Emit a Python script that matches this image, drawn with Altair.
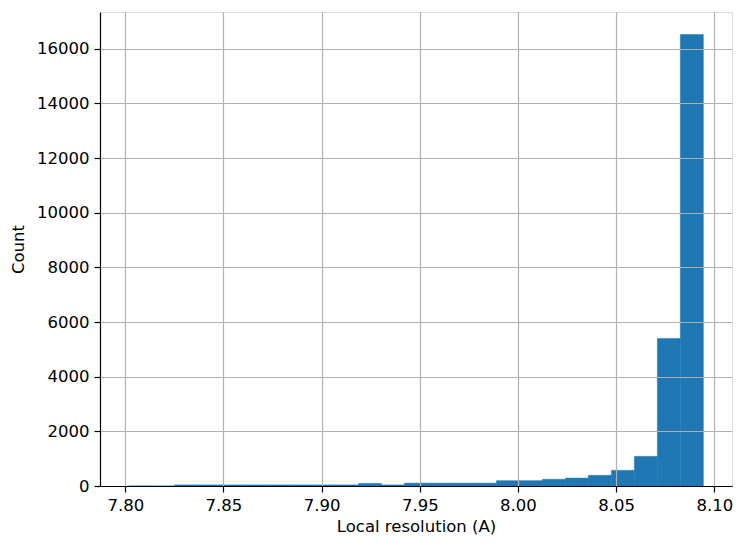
import altair as alt
import pandas as pd

# Histogram of local resolution (25 bins between min and max)
bin_lo = 7.8017
bin_hi = 8.0944
n_bins = 25
counts = [2, 1, 40, 40, 40, 40, 40, 40, 40, 40, 95, 40,
          105, 105, 105, 105, 195, 195, 245, 290, 390, 573, 1085, 5400, 16520]

width_bin = (bin_hi - bin_lo) / n_bins
starts = [bin_lo + i * width_bin for i in range(n_bins)]
ends = [bin_lo + (i + 1) * width_bin for i in range(n_bins)]

df = pd.DataFrame({"start": starts, "end": ends, "count": counts})

x_ticks = [7.80, 7.85, 7.90, 7.95, 8.00, 8.05, 8.10]
y_ticks = [0, 2000, 4000, 6000, 8000, 10000, 12000, 14000, 16000]

font = "DejaVu Sans"
fs = 16.5

common = dict(grid=True, gridColor="#b0b0b0", gridWidth=1.2,
              domainColor="black", domainWidth=1.2,
              tickColor="black", tickSize=6, tickWidth=1.2,
              labelFont=font, labelFontSize=fs, labelColor="black",
              labelPadding=5, titleFont=font, titleFontSize=fs,
              titleFontWeight="normal", titleColor="black", zindex=1)

chart = alt.Chart(df).mark_rect(color="#1f77b4", stroke="#1f77b4", strokeWidth=0.5).encode(
    x=alt.X("start:Q",
            scale=alt.Scale(domain=[7.7871, 8.1090], nice=False, zero=False),
            axis=alt.Axis(title="Local resolution (A)", values=x_ticks, format=".2f",
                          titlePadding=5, **common)),
    x2="end:Q",
    y=alt.Y("count:Q",
            scale=alt.Scale(domain=[0, 17346], nice=False),
            axis=alt.Axis(title="Count", values=y_ticks, format="d",
                          titlePadding=10, **common)),
    y2=alt.datum(0),
).properties(
    width=632,
    height=474,
    autosize=alt.AutoSizeParams(type="none"),
    padding={"left": 92, "top": 4, "right": 3, "bottom": 52},
).configure_view(
    stroke="black", strokeWidth=1.2
).configure(background="white")

chart.save("out.html", embed_options={"renderer": "svg", "actions": False})
